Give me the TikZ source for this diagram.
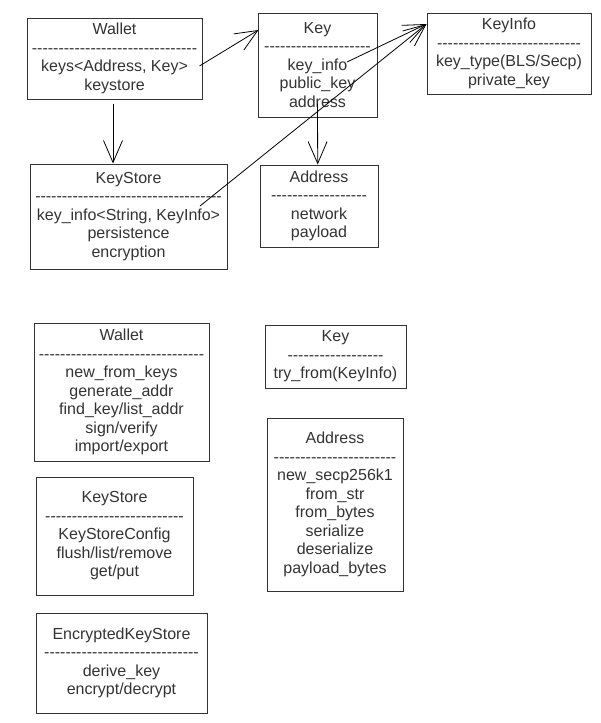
\documentclass[tikz,border=0pt]{standalone}
\usepackage{fontspec}
\setmainfont{Liberation Sans}[Ligatures=TeXOff]
\usetikzlibrary{arrows.meta}

\newcommand{\dashrow}[1]{\foreach \n in {1,...,#1}{-\kern0pt}}

\begin{document}
\begin{tikzpicture}[
    x=1pt, y=-1pt,
    every node/.style={font=\fontsize{16}{18.5}\selectfont, text=black!80},
    classbox/.style={draw=black!80, line width=1pt, align=center, inner sep=0pt},
    every edge/.append style={line width=0.8pt, >={Straight Barb[length=22pt, width=19pt]}}
]
   \useasboundingbox (0,0) rectangle (601,723);

   % Structures
   \node[classbox, minimum width=175pt, minimum height=81pt] (wallet) at (114.5,58.5)
      {Wallet\\\dashrow{31}\\keys<Address, Key>\\keystore};
   \node[classbox, minimum width=119pt, minimum height=104pt] (key) at (317.5,65)
      {Key\\\dashrow{20}\\key\_info\\public\_key\\address};
   \node[classbox, minimum width=164pt, minimum height=81pt] (keyinfo) at (509,53.5)
      {KeyInfo\\\dashrow{27}\\key\_type(BLS/Secp)\\private\_key};
   \node[classbox, minimum width=197pt, minimum height=105pt] (keystore) at (128.5,216.5)
      {KeyStore\\\dashrow{35}\\key\_info<String, KeyInfo>\\persistence\\encryption};
   \node[classbox, minimum width=118pt, minimum height=82pt] (address) at (319,206)
      {Address\\\dashrow{18}\\network\\payload};

   % Methods
   \node[classbox, minimum width=175pt, minimum height=138pt] (walletops) at (121.5,392)
      {Wallet\\\dashrow{31}\\new\_from\_keys\\generate\_addr\\find\_key/list\_addr\\sign/verify\\import/export};
   \node[classbox, minimum width=141pt, minimum height=63pt] (keyops) at (335.5,356.5)
      {Key\\\dashrow{18}\\try\_from(KeyInfo)};
   \node[classbox, minimum width=136pt, minimum height=173pt] (addressops) at (335,504.5)
      {Address\\\dashrow{23}\\new\_secp256k1\\from\_str\\from\_bytes\\serialize\\deserialize\\payload\_bytes};
   \node[classbox, minimum width=157pt, minimum height=118pt] (keystoreops) at (114.5,536)
      {KeyStore\\\dashrow{26}\\KeyStoreConfig\\flush/list/remove\\get/put};
   \node[classbox, minimum width=171pt, minimum height=100pt] (encstore) at (121.5,663)
      {EncryptedKeyStore\\\dashrow{29}\\derive\_key\\encrypt/decrypt};

   % Associations
   \path[->]
   ([xshift=-3pt, yshift=-7.5pt]wallet.east) edge ([xshift=1pt, yshift=35pt]key.west)
   ([xshift=-1.5pt, yshift=-4pt]wallet.south) edge ([xshift=-15.5pt]keystore.north)
   ([yshift=14pt]key.south) edge ([xshift=-1.3pt]address.north)
   ([xshift=29.5pt, yshift=3pt]key.center) edge ([yshift=29.5pt]keyinfo.west)
   ([xshift=71.5pt, yshift=10.5pt]keystore.center) edge ([yshift=29.5pt]keyinfo.west);
\end{tikzpicture}
\end{document}
